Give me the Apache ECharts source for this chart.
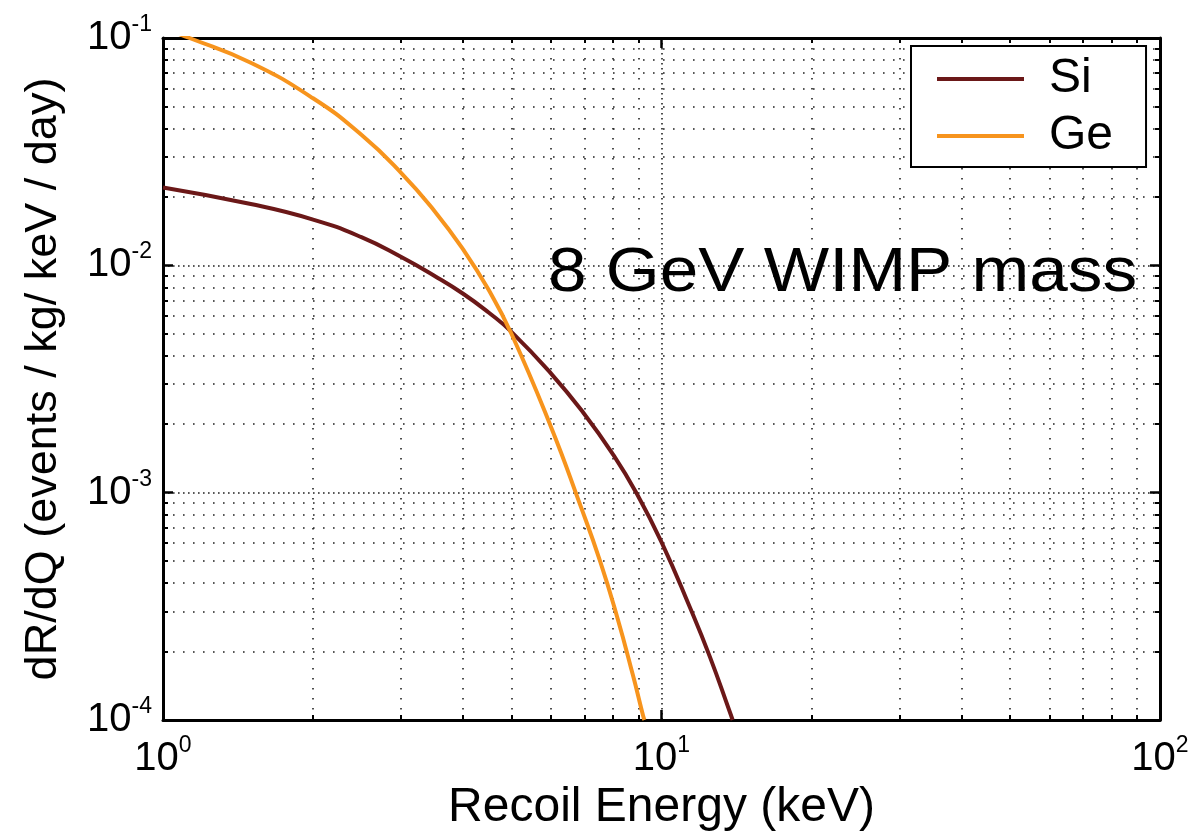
<!DOCTYPE html>
<html>
<head>
<meta charset="utf-8">
<script src="https://cdn.jsdelivr.net/npm/echarts@6/dist/echarts.min.js"></script>
<style>
  html, body { margin: 0; padding: 0; background: #fff; }
  #chart { width: 1194px; height: 837px; }
</style>
</head>
<body>
<div id="chart"></div>
<script>
// Differential recoil rate for an 8 GeV WIMP on silicon and germanium targets
const siEnergy = [1, 1.5, 2, 2.5, 3, 3.5, 4, 4.5, 5, 6, 7, 8, 8.9, 10, 11.4, 12.5, 13.7, 13.89];
const siRate   = [0.0220, 0.0186, 0.0159, 0.0133, 0.0109, 0.0090, 0.0075, 0.0062, 0.0051, 0.00335,
                  0.00222, 0.00147, 0.00100, 0.000606, 0.000313, 0.00019, 0.000109, 0.0001];

const geEnergy = [1, 1.13, 1.5, 2, 2.5, 3, 3.5, 4, 4.5, 5, 6, 6.86, 7.53, 8.14, 8.76, 9.18, 9.24];
const geRate   = [0.110, 0.100, 0.0778, 0.0543, 0.0375, 0.0256, 0.0174, 0.01175, 0.0078, 0.0050,
                  0.00195, 0.00089, 0.00050, 0.000286, 0.000158, 0.000105, 0.0001];

const seriesNames = ['Si', 'Ge'];
const seriesColors = ['#6b1818', '#f7941d'];
const xRange = [1, 100];
const yRange = [1e-4, 1e-1];
const xTitle = 'Recoil Energy (keV)';
const yTitle = 'dR/dQ (events / kg/ keV / day)';
const annotation = '8 GeV WIMP mass';

const FONT = '"Liberation Sans", Arial, Helvetica, sans-serif';

function pairs(xs, ys) { return xs.map((x, i) => [x, ys[i]]); }
function powLabel(v) {
  const e = Math.round(Math.log10(v));
  return '{b|10}{e|' + e + '}';
}

const labelRich = {
  b: { fontSize: 40, lineHeight: 50, fontFamily: FONT, color: '#000' },
  e: { fontSize: 23, lineHeight: 23, verticalAlign: 'top', fontFamily: FONT, color: '#000' }
};

const frameAxis = {
  axisLine: { show: true, onZero: false, lineStyle: { color: '#000', width: 3 } },
  axisTick: { show: true, inside: true, length: 10, lineStyle: { color: '#000', width: 2.5 } },
  minorTick: { show: true, splitNumber: 9, length: 5, lineStyle: { color: '#000', width: 2 } }
};
const majorGrid = { show: true, lineStyle: { color: '#222', width: 1.6, type: [1.6, 3.4] } };
const minorGrid = { show: true, lineStyle: { color: '#222', width: 1.6, type: [1.6, 8.4] } };

const chart = echarts.init(document.getElementById('chart'), null, { renderer: 'canvas' });

chart.setOption({
  animation: false,
  backgroundColor: '#fff',
  grid: { left: 163, top: 38, right: 34, bottom: 115, containLabel: false },
  xAxis: [
    Object.assign({
      type: 'log', logBase: 10, min: xRange[0], max: xRange[1], position: 'bottom',
      axisLabel: { formatter: powLabel, margin: 14, rich: labelRich },
      splitLine: majorGrid, minorSplitLine: minorGrid,
      name: xTitle, nameLocation: 'middle', nameGap: 64,
      nameTextStyle: { fontSize: 48, fontFamily: FONT, color: '#000' }
    }, frameAxis),
    Object.assign({
      type: 'log', logBase: 10, min: xRange[0], max: xRange[1], position: 'top',
      axisLabel: { show: false }, splitLine: { show: false }
    }, frameAxis)
  ],
  yAxis: [
    Object.assign({
      type: 'log', logBase: 10, min: yRange[0], max: yRange[1], position: 'left',
      axisLabel: { formatter: powLabel, margin: 11, rich: labelRich },
      splitLine: majorGrid, minorSplitLine: minorGrid,
      name: yTitle, nameLocation: 'middle', nameRotate: 90, nameGap: 97,
      nameTextStyle: { fontSize: 45, fontFamily: FONT, color: '#000' }
    }, frameAxis),
    Object.assign({
      type: 'log', logBase: 10, min: yRange[0], max: yRange[1], position: 'right',
      axisLabel: { show: false }, splitLine: { show: false }
    }, frameAxis)
  ],
  legend: {
    data: seriesNames, orient: 'vertical', left: 911, top: 46,
    backgroundColor: '#fff', borderColor: '#000', borderWidth: 2, borderRadius: 0,
    padding: [9, 33, 7, 26], itemWidth: 87, itemHeight: 4, itemGap: 9, icon: 'rect',
    selectedMode: false,
    textStyle: { fontSize: 48, lineHeight: 48, fontFamily: FONT, color: '#000', padding: [0, 0, 0, 20] }
  },
  graphic: [{
    type: 'text', x: 548, y: 274, scaleX: 1.1, z: 10,
    style: { text: annotation, font: '63px "Liberation Sans", Arial, sans-serif', fill: '#000', align: 'left', verticalAlign: 'middle' }
  }],
  series: [
    {
      name: seriesNames[0], type: 'line', xAxisIndex: 0, yAxisIndex: 0,
      data: pairs(siEnergy, siRate), symbol: 'none', smooth: 0.5, clip: true,
      lineStyle: { color: seriesColors[0], width: 4 }, itemStyle: { color: seriesColors[0] }
    },
    {
      name: seriesNames[1], type: 'line', xAxisIndex: 0, yAxisIndex: 0,
      data: pairs(geEnergy, geRate), symbol: 'none', smooth: 0.5, clip: true,
      lineStyle: { color: seriesColors[1], width: 4 }, itemStyle: { color: seriesColors[1] }
    }
  ]
});
</script>
</body>
</html>
